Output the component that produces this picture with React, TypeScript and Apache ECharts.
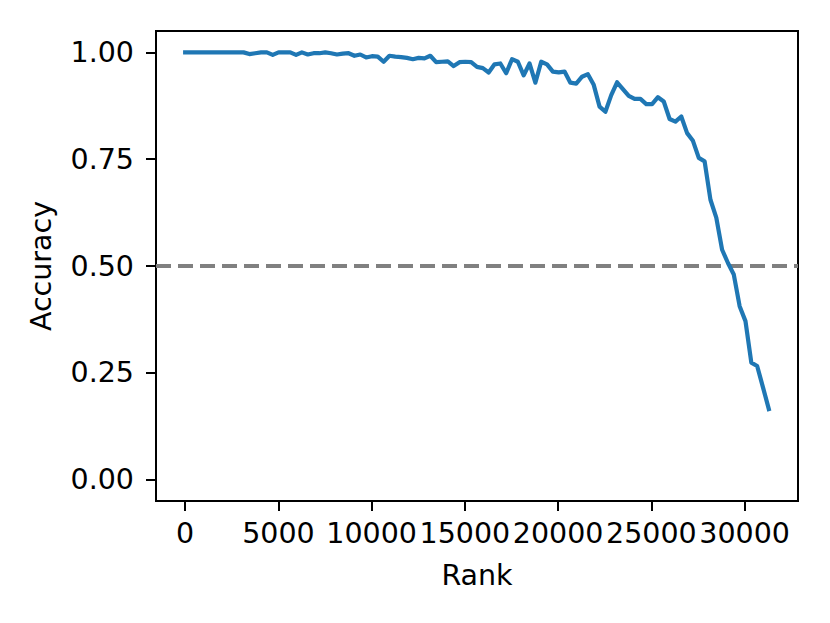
import React, { useEffect, useRef } from "react";
import * as echarts from "echarts";

const ranks: number[] = [
  0, 313, 626, 939, 1252, 1565, 1878, 2191, 2504, 2817, 3130, 3443, 3756, 4069, 4382, 4695, 5008,
  5321, 5634, 5947, 6260, 6573, 6886, 7199, 7512, 7825, 8138, 8451, 8764, 9077, 9390, 9703, 10016,
  10329, 10642, 10955, 11268, 11581, 11894, 12207, 12520, 12833, 13146, 13459, 13772, 14085, 14398,
  14711, 15024, 15337, 15650, 15963, 16276, 16589, 16902, 17215, 17528, 17841, 18154, 18467, 18780,
  19093, 19406, 19719, 20032, 20345, 20658, 20971, 21284, 21597, 21910, 22223, 22536, 22849, 23162,
  23475, 23788, 24101, 24414, 24727, 25040, 25353, 25666, 25979, 26292, 26605, 26918, 27231, 27544,
  27857, 28170, 28483, 28796, 29109, 29422, 29735, 30048, 30361, 30674, 30987, 31300,
];

const accuracy: number[] = [
  1.0, 1.0, 1.0, 1.0, 1.0, 1.0, 1.0, 1.0, 1.0, 1.0, 1.0,
  0.996, 0.998, 1.0, 1.0, 0.994, 1.0, 1.0, 1.0, 0.994, 1.0,
  0.995, 0.998, 0.998, 1.0, 0.998, 0.995, 0.997, 0.998, 0.992, 0.995,
  0.988, 0.991, 0.99, 0.978, 0.992, 0.99, 0.989, 0.987, 0.984, 0.987,
  0.986, 0.992, 0.977, 0.978, 0.979, 0.968, 0.977, 0.978, 0.977, 0.966,
  0.963, 0.953, 0.972, 0.974, 0.951, 0.984, 0.978, 0.946, 0.974, 0.929,
  0.978, 0.972, 0.955, 0.953, 0.955, 0.929, 0.927, 0.943, 0.949, 0.924,
  0.873, 0.861, 0.9, 0.93, 0.914, 0.898, 0.891, 0.891, 0.879, 0.879,
  0.895, 0.885, 0.844, 0.838, 0.85, 0.811, 0.793, 0.753, 0.745, 0.655,
  0.613, 0.538, 0.507, 0.48, 0.406, 0.371, 0.274, 0.266, 0.216, 0.165,
];

const xTicks: number[] = [0, 5000, 10000, 15000, 20000, 25000, 30000];
const yTicks: number[] = [0, 0.25, 0.5, 0.75, 1.0];
const threshold = 0.5;
const xRange: number[] = [-1565, 32865];
const yRange: number[] = [-0.05, 1.05];

const FONT = "DejaVu Sans";
const FS = 28.5;

export default function App() {
  const ref = useRef<HTMLDivElement>(null);
  useEffect(() => {
    if (!ref.current) return;
    const chart = echarts.init(ref.current, null, { renderer: "svg" });
    const lineData = ranks.map((r, i) => [r, accuracy[i]]);
    chart.setOption({
      animation: false,
      backgroundColor: "#ffffff",
      grid: {
        left: 156,
        right: 32,
        top: 31,
        bottom: 122,
        show: true,
        borderColor: "#000",
        borderWidth: 2,
        backgroundColor: "transparent",
        containLabel: false,
        outerBoundsMode: "none",
      },
      xAxis: {
        type: "value",
        min: xRange[0],
        max: xRange[1],
        name: "Rank",
        nameLocation: "middle",
        nameGap: 60,
        nameTextStyle: { fontFamily: FONT, fontSize: FS, color: "#000" },
        axisLine: { show: true, onZero: false, lineStyle: { color: "#000", width: 2 } },
        axisTick: { show: true, length: 10, customValues: xTicks, lineStyle: { color: "#000", width: 2 } },
        axisLabel: {
          customValues: xTicks,
          margin: 18,
          fontFamily: FONT,
          fontSize: FS,
          color: "#000",
          formatter: (v: number) => String(v),
        },
        splitLine: { show: false },
      },
      yAxis: {
        type: "value",
        min: yRange[0],
        max: yRange[1],
        name: "Accuracy",
        nameLocation: "middle",
        nameGap: 100,
        nameRotate: 90,
        nameTextStyle: { fontFamily: FONT, fontSize: FS, color: "#000" },
        axisLine: { show: true, onZero: false, lineStyle: { color: "#000", width: 2 } },
        axisTick: { show: true, length: 10, customValues: yTicks, lineStyle: { color: "#000", width: 2 } },
        axisLabel: {
          customValues: yTicks,
          margin: 22,
          fontFamily: FONT,
          fontSize: FS,
          color: "#000",
          formatter: (v: number) => v.toFixed(2),
        },
        splitLine: { show: false },
      },
      series: [
        {
          name: "threshold",
          type: "line",
          z: 1,
          data: [
            [xRange[0], threshold],
            [xRange[1], threshold],
          ],
          showSymbol: false,
          symbol: "none",
          lineStyle: { color: "#808080", width: 4, type: [15, 7] },
          silent: true,
        },
        {
          name: "Accuracy",
          type: "line",
          z: 2,
          data: lineData,
          showSymbol: false,
          symbol: "none",
          lineStyle: { color: "#1f77b4", width: 4.2, cap: "square", join: "round" },
        },
      ],
    });
    return () => chart.dispose();
  }, []);
  return (
    <div
      ref={ref}
      style={{ position: "fixed", left: 0, top: 0, width: 830, height: 623, background: "#fff" }}
    />
  );
}
